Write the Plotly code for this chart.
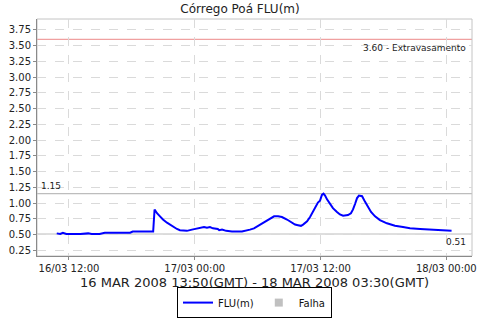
import plotly.graph_objects as go

# ---- data (local time, GMT-3) ----
times = [
    "2008-03-16 10:50", "2008-03-16 11:10", "2008-03-16 11:25", "2008-03-16 11:45",
    "2008-03-16 13:05", "2008-03-16 13:50", "2008-03-16 14:10", "2008-03-16 14:55",
    "2008-03-16 15:25", "2008-03-16 15:55", "2008-03-16 16:40", "2008-03-16 17:20",
    "2008-03-16 17:50", "2008-03-16 18:05", "2008-03-16 19:55", "2008-03-16 20:02",
    "2008-03-16 20:10", "2008-03-16 20:24", "2008-03-16 20:41", "2008-03-16 20:58",
    "2008-03-16 21:21", "2008-03-16 21:38", "2008-03-16 21:55", "2008-03-16 22:18",
    "2008-03-16 22:35", "2008-03-16 23:15", "2008-03-16 23:44", "2008-03-17 00:30",
    "2008-03-17 00:53", "2008-03-17 01:10", "2008-03-17 01:27", "2008-03-17 01:44",
    "2008-03-17 02:12", "2008-03-17 02:20", "2008-03-17 02:36", "2008-03-17 03:00",
    "2008-03-17 03:33", "2008-03-17 04:30", "2008-03-17 04:53", "2008-03-17 05:16",
    "2008-03-17 05:39", "2008-03-17 06:02", "2008-03-17 06:25", "2008-03-17 06:48",
    "2008-03-17 07:11", "2008-03-17 07:34", "2008-03-17 07:57", "2008-03-17 08:19",
    "2008-03-17 08:48", "2008-03-17 09:11", "2008-03-17 09:34", "2008-03-17 09:51",
    "2008-03-17 10:08", "2008-03-17 10:20", "2008-03-17 10:43", "2008-03-17 11:00",
    "2008-03-17 11:17", "2008-03-17 11:34", "2008-03-17 11:45", "2008-03-17 11:57",
    "2008-03-17 12:08", "2008-03-17 12:17", "2008-03-17 12:26", "2008-03-17 12:37",
    "2008-03-17 12:54", "2008-03-17 13:11", "2008-03-17 13:34", "2008-03-17 13:51",
    "2008-03-17 14:09", "2008-03-17 14:37", "2008-03-17 14:54", "2008-03-17 15:06",
    "2008-03-17 15:18", "2008-03-17 15:29", "2008-03-17 15:40", "2008-03-17 15:58",
    "2008-03-17 16:15", "2008-03-17 16:32", "2008-03-17 16:49", "2008-03-17 17:12",
    "2008-03-17 17:40", "2008-03-17 18:20", "2008-03-17 19:06", "2008-03-17 19:52",
    "2008-03-17 20:32", "2008-03-17 21:30", "2008-03-17 22:27", "2008-03-17 23:24",
    "2008-03-18 00:04", "2008-03-18 00:30",
]
flu = [
    0.52, 0.51, 0.53, 0.51,
    0.51, 0.52, 0.51, 0.51,
    0.53, 0.53, 0.54, 0.54,
    0.53, 0.55, 0.55, 0.55,
    0.90, 0.84, 0.79, 0.74,
    0.69, 0.66, 0.62, 0.59,
    0.57, 0.56, 0.58, 0.60,
    0.62, 0.61, 0.62, 0.60,
    0.59, 0.57, 0.58, 0.56,
    0.55, 0.55, 0.56, 0.58,
    0.60, 0.64, 0.68, 0.71,
    0.75, 0.79, 0.79, 0.78,
    0.74, 0.70, 0.66, 0.65,
    0.64, 0.66, 0.71, 0.78,
    0.87, 0.96, 1.01, 1.04,
    1.13, 1.15, 1.12, 1.06,
    0.99, 0.92, 0.86, 0.82,
    0.80, 0.81, 0.84, 0.90,
    0.99, 1.08, 1.12, 1.11,
    1.02, 0.93, 0.86, 0.79,
    0.73, 0.68, 0.64, 0.62,
    0.60, 0.59, 0.58, 0.57,
    0.57, 0.56,
]
ref_levels = [3.60, 1.15, 0.51]
ref_labels = ["3.60 - Extravasamento", "1.15", "0.51"]
y_ticks = [0.25, 0.50, 0.75, 1.00, 1.25, 1.50, 1.75, 2.00, 2.25, 2.50,
           2.75, 3.00, 3.25, 3.50, 3.75]
x_ticks = ["2008-03-16 12:00", "2008-03-17 00:00", "2008-03-17 12:00", "2008-03-18 00:00"]
x_tick_labels = ["16/03 12:00", "17/03 00:00", "17/03 12:00", "18/03 00:00"]

FONT = "DejaVu Sans"

fig = go.Figure()
fig.add_trace(go.Scatter(x=times, y=flu, mode="lines", name="FLU(m)",
                         line=dict(color="#0000ff", width=2)))
fig.add_trace(go.Scatter(x=[None], y=[None], mode="markers", name="Falha",
                         marker=dict(symbol="square", color="#c0c0c0", size=8)))

# reference lines
fig.add_shape(type="line", xref="paper", x0=0, x1=1, yref="y", y0=ref_levels[0], y1=ref_levels[0],
              line=dict(color="#f0a0a0", width=1.2), layer="below")
for lv in ref_levels[1:]:
    fig.add_shape(type="line", xref="paper", x0=0, x1=1, yref="y", y0=lv, y1=lv,
                  line=dict(color="#bdbdbd", width=1.2), layer="below")
# plot frame (light)
fig.add_shape(type="rect", xref="paper", yref="paper", x0=0, x1=1, y0=0, y1=1,
              line=dict(color="#c4c4c4", width=1), layer="below")

fig.add_annotation(x=0.99, xref="paper", y=ref_levels[0], yref="y", text=ref_labels[0],
                   showarrow=False, xanchor="right", yanchor="top", yshift=-2,
                   font=dict(family=FONT, size=9, color="#222"))
fig.add_annotation(x=0.005, xref="paper", y=ref_levels[1], yref="y", text=ref_labels[1],
                   showarrow=False, xanchor="left", yanchor="bottom", yshift=1,
                   font=dict(family=FONT, size=9, color="#222"))
fig.add_annotation(x=0.99, xref="paper", y=ref_levels[2], yref="y", text=ref_labels[2],
                   showarrow=False, xanchor="right", yanchor="top", yshift=-1,
                   font=dict(family=FONT, size=9, color="#222"))

fig.add_annotation(x=0.5, xref="paper", y=-0.113, yref="paper",
                   text="16 MAR 2008 13:50(GMT) - 18 MAR 2008 03:30(GMT)",
                   showarrow=False, xanchor="center", yanchor="middle",
                   font=dict(family=FONT, size=13, color="#222"))

fig.update_layout(
    width=480, height=320,
    margin=dict(l=37, r=8, t=19, b=64, autoexpand=False),
    paper_bgcolor="white", plot_bgcolor="white",
    title=dict(text="Córrego Poá FLU(m)", x=0.5, xanchor="center", y=0.972, yanchor="middle",
               font=dict(family=FONT, size=12, color="#222")),
    font=dict(family=FONT, size=10, color="#222"),
    showlegend=True,
    legend=dict(orientation="h", x=0.5, xanchor="center", y=-0.262, yanchor="bottom",
                bordercolor="#000", borderwidth=1, font=dict(family=FONT, size=10, color="#111"),
                itemwidth=30, tracegroupgap=0, itemclick=False),
    xaxis=dict(range=["2008-03-16 08:57", "2008-03-18 02:27"],
               tickvals=x_ticks, ticktext=x_tick_labels,
               showgrid=True, gridcolor="#dadada", griddash="dash", gridwidth=1,
               showline=True, linecolor="#8a8a8a", linewidth=1,
               ticks="outside", ticklen=3, tickcolor="#8a8a8a",
               tickfont=dict(family=FONT, size=10, color="#222"), zeroline=False),
    yaxis=dict(range=[0.161, 3.923], tickvals=y_ticks, tickformat=".2f",
               showgrid=True, gridcolor="#dadada", griddash="dash", gridwidth=1,
               showline=True, linecolor="#8a8a8a", linewidth=1,
               ticks="outside", ticklen=3, tickcolor="#8a8a8a",
               tickfont=dict(family=FONT, size=10, color="#222"), zeroline=False),
)

fig.write_html("out.html", config={"displayModeBar": False, "staticPlot": True},
               post_script="document.body.style.margin='0';document.body.style.overflow='hidden';")
